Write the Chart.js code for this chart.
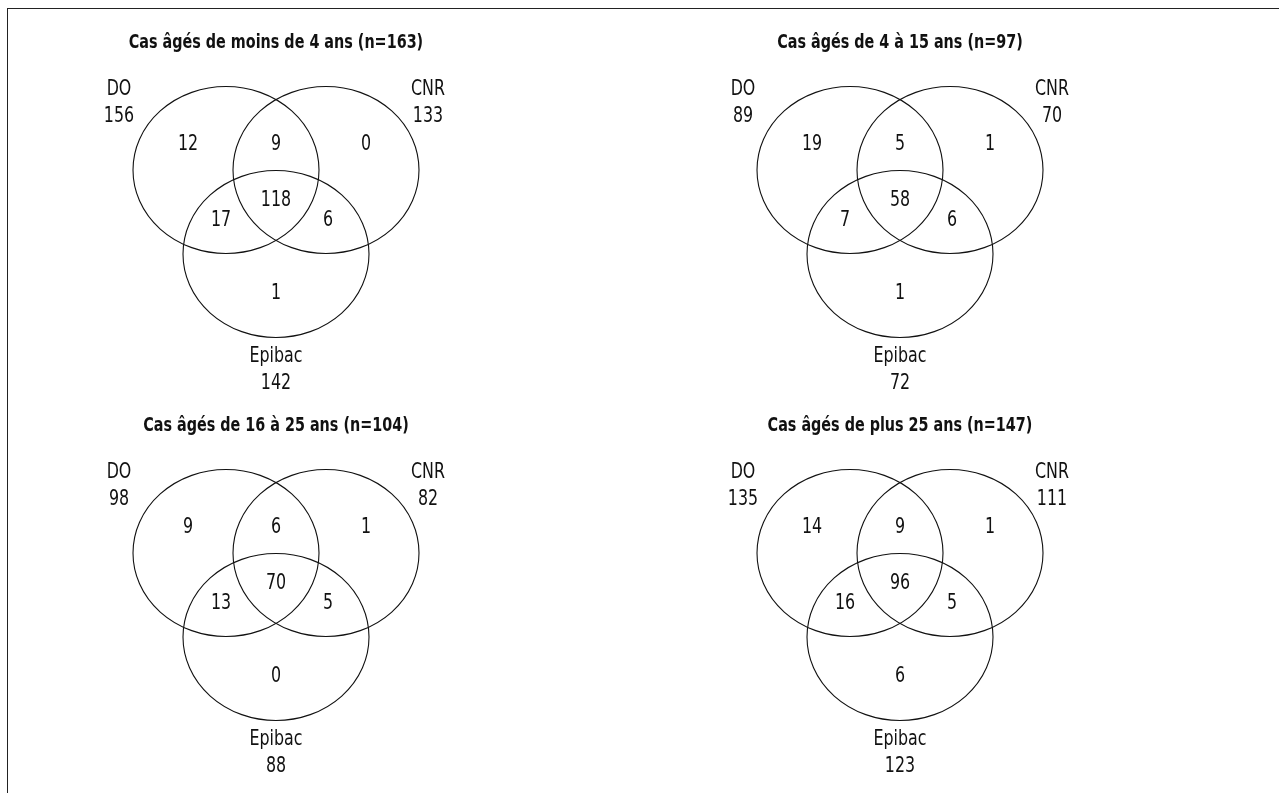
<!DOCTYPE html>
<html>
<head>
<meta charset="utf-8">
<script src="https://cdn.jsdelivr.net/npm/chart.js@4.4.1/dist/chart.umd.min.js"></script>
<style>
  body { margin: 0; background: #fff; width: 1279px; height: 793px; overflow: hidden; position: relative; }
  .frame { position: absolute; left: 7px; top: 8px; right: 0; bottom: 0; border-top: 1.5px solid #222; border-left: 1.5px solid #222; }
  .panel { position: absolute; width: 640px; height: 400px; }
</style>
</head>
<body>
<div class="frame"></div>
<div class="panel" style="left:0;top:0"><canvas id="c0"></canvas></div>
<div class="panel" style="left:624px;top:0"><canvas id="c1"></canvas></div>
<div class="panel" style="left:0;top:383px"><canvas id="c2"></canvas></div>
<div class="panel" style="left:624px;top:383px"><canvas id="c3"></canvas></div>
<script>
const titles = [
  "Cas âgés de moins de 4 ans (n=163)",
  "Cas âgés de 4 à 15 ans (n=97)",
  "Cas âgés de 16 à 25 ans (n=104)",
  "Cas âgés de plus 25 ans (n=147)"
];
const sources = ["DO", "CNR", "Epibac"];

// totals per source, one row per panel
const sourceTotals = [
  [156, 133, 142],
  [89, 70, 72],
  [98, 82, 88],
  [135, 111, 123]
];

// region counts: DO only, DO+CNR, CNR only, all three, DO+Epibac, CNR+Epibac, Epibac only
const regionNames = ["DO", "DO+CNR", "CNR", "DO+CNR+Epibac", "DO+Epibac", "CNR+Epibac", "Epibac"];
const regionCounts = [
  [12, 9, 0, 118, 17, 6, 1],
  [19, 5, 1, 58, 7, 6, 1],
  [9, 6, 1, 70, 13, 5, 0],
  [14, 9, 1, 96, 16, 5, 6]
];

// Venn layout (units: 1 = 100px)
const circleCenters = [{ x: -0.5, y: 0.42 }, { x: 0.5, y: 0.42 }, { x: 0, y: -0.42 }];
const circleRx = 0.93, circleRy = 0.835;
const regionSpots = [
  { x: -0.88, y: 0.67 }, { x: 0, y: 0.67 }, { x: 0.9, y: 0.67 },
  { x: 0, y: 0.11 }, { x: -0.55, y: -0.09 }, { x: 0.52, y: -0.09 }, { x: 0, y: -0.82 }
];
const labelSpots = [{ x: -1.57, y: 1.09 }, { x: 1.52, y: 1.09 }, { x: 0, y: -1.585 }];

const FONT = "'DejaVu Sans Condensed', 'DejaVu Sans', sans-serif";
const SQUEEZE = 0.84; // narrower glyphs, like the original condensed face

function narrowText(ctx, txt, x, y) {
  ctx.save();
  ctx.translate(x, y);
  ctx.scale(SQUEEZE, 1);
  ctx.fillText(txt, 0, 0);
  ctx.restore();
}

const vennPlugin = {
  id: 'venn',
  afterDatasetsDraw(chart, args, opts) {
    const ctx = chart.ctx;
    const xs = chart.scales.x, ys = chart.scales.y;
    ctx.save();
    // ellipses
    const circles = chart.getDatasetMeta(0);
    ctx.strokeStyle = '#111';
    ctx.lineWidth = 1.1;
    circles.data.forEach((pt, i) => {
      const c = circleCenters[i];
      const rx = xs.getPixelForValue(c.x + circleRx) - pt.x;
      const ry = pt.y - ys.getPixelForValue(c.y + circleRy);
      ctx.beginPath();
      ctx.ellipse(pt.x, pt.y, rx, ry, 0, 0, Math.PI * 2);
      ctx.stroke();
    });
    ctx.fillStyle = '#111';
    ctx.textAlign = 'center';
    ctx.textBaseline = 'middle';
    ctx.font = "21px " + FONT;
    // region counts
    const regions = chart.getDatasetMeta(1);
    regions.data.forEach((pt, i) => {
      narrowText(ctx, String(opts.counts[i]), pt.x, pt.y);
    });
    // source names + totals
    const labels = chart.getDatasetMeta(2);
    labels.data.forEach((pt, i) => {
      narrowText(ctx, sources[i], pt.x, pt.y - 13.5);
      narrowText(ctx, String(opts.totals[i]), pt.x, pt.y + 13.5);
    });
    // title
    ctx.font = "bold 19px " + FONT;
    narrowText(ctx, opts.title, xs.getPixelForValue(0), ys.getPixelForValue(1.69));
    ctx.restore();
  }
};

function makeVenn(id, k) {
  new Chart(document.getElementById(id), {
    type: 'scatter',
    data: {
      datasets: [
        { label: 'cercles', data: circleCenters, pointRadius: 0 },
        { label: 'régions', data: regionSpots, pointRadius: 0 },
        { label: 'sources', data: labelSpots, pointRadius: 0 }
      ]
    },
    options: {
      responsive: false,
      animation: false,
      devicePixelRatio: 1,
      layout: { padding: 0 },
      scales: {
        x: { type: 'linear', min: -2.76, max: 3.64, display: false },
        y: { type: 'linear', min: -1.88, max: 2.12, display: false }
      },
      plugins: {
        legend: { display: false },
        tooltip: { enabled: false },
        venn: { title: titles[k], counts: regionCounts[k], totals: sourceTotals[k] }
      }
    },
    plugins: [vennPlugin]
  });
}

['c0', 'c1', 'c2', 'c3'].forEach((id, k) => {
  const cv = document.getElementById(id);
  cv.width = 640;
  cv.height = 400;
  makeVenn(id, k);
});
</script>
</body>
</html>
